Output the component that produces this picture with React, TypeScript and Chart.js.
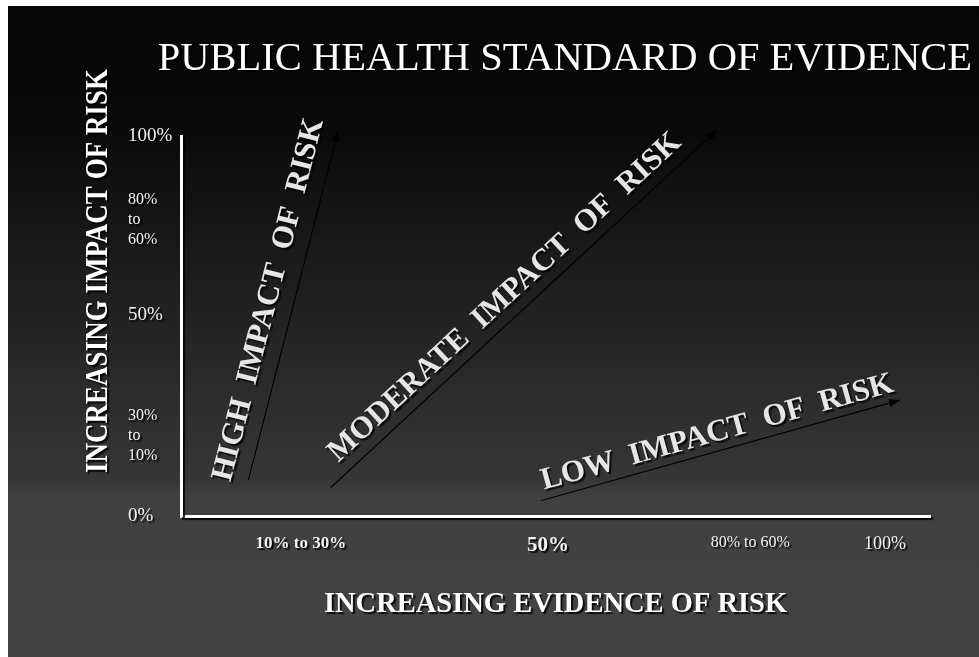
import React, { useEffect, useRef } from "react";
import { Chart, registerables } from "chart.js";

Chart.register(...registerables);

const TITLE = "PUBLIC HEALTH STANDARD OF EVIDENCE";
const X_AXIS_TITLE = "INCREASING EVIDENCE OF RISK";
const Y_AXIS_TITLE = "INCREASING IMPACT OF RISK";

const X_TICK_VALUES = [16, 49, 76, 94];
const X_TICK_LABELS = ["10% to 30%", "50%", "80% to 60%", "100%"];
const Y_TICK_VALUES = [0, 21, 53, 78, 100];
const Y_TICK_LABELS: (string | string[])[] = ["0%", ["30%", "to", "10%"], "50%", ["80%", "to", "60%"], "100%"];

const ARROW_LABELS = ["HIGH  IMPACT  OF  RISK", "MODERATE  IMPACT  OF  RISK", "LOW  IMPACT  OF  RISK"];
const EVIDENCE_START = [9, 20, 48];
const EVIDENCE_END = [21, 71.5, 96];
const IMPACT_START = [9.5, 7.5, 4];
const IMPACT_END = [101.5, 101.5, 30.5];

const SERIF = "'Liberation Serif', 'Times New Roman', serif";
const X_TICK_FONTS = [
  { size: 17, weight: "bold" },
  { size: 21, weight: "bold" },
  { size: 16, weight: "normal" },
  { size: 18, weight: "normal" },
];
// [perpendicular, along] offsets of arrow captions, in px
const LABEL_OFFSETS = [
  [25, -1],
  [21, -6],
  [18, 2],
];

function setShadow(ctx: CanvasRenderingContext2D, on: boolean) {
  ctx.shadowColor = on ? "rgba(0,0,0,0.85)" : "transparent";
  ctx.shadowOffsetX = on ? 2 : 0;
  ctx.shadowOffsetY = on ? 2 : 0;
  ctx.shadowBlur = on ? 1 : 0;
}

const slidePlugin = {
  id: "slide",
  beforeDraw(chart: any) {
    const { ctx, width, height } = chart;
    ctx.save();
    const g = ctx.createLinearGradient(0, 0, 0, height);
    g.addColorStop(0, "#050505");
    g.addColorStop(134 / 651, "#0b0b0b");
    g.addColorStop(294 / 651, "#202020");
    g.addColorStop(474 / 651, "#363636");
    g.addColorStop(490 / 651, "#404040");
    g.addColorStop(1, "#434343");
    ctx.fillStyle = g;
    ctx.fillRect(0, 0, width, height);
    ctx.restore();
    setShadow(ctx, true);
  },
  beforeDatasetsDraw(chart: any) {
    setShadow(chart.ctx, false);
  },
  afterDatasetsDraw(chart: any) {
    const ctx = chart.ctx;
    chart.data.datasets.forEach((_ds: any, i: number) => {
      const pts = chart.getDatasetMeta(i).data;
      const a = pts[0];
      const b = pts[pts.length - 1];
      const dx = b.x - a.x;
      const dy = b.y - a.y;
      const len = Math.hypot(dx, dy);
      const ux = dx / len;
      const uy = dy / len;
      const ang = Math.atan2(dy, dx);
      ctx.save();
      setShadow(ctx, false);
      ctx.fillStyle = "#000";
      ctx.beginPath();
      ctx.moveTo(b.x, b.y);
      ctx.lineTo(b.x - ux * 11 - uy * 4, b.y - uy * 11 + ux * 4);
      ctx.lineTo(b.x - ux * 11 + uy * 4, b.y - uy * 11 - ux * 4);
      ctx.closePath();
      ctx.fill();
      const [perp, along] = LABEL_OFFSETS[i];
      const nx = uy;
      const ny = -ux;
      const cx = (a.x + b.x) / 2 + nx * perp + ux * along;
      const cy = (a.y + b.y) / 2 + ny * perp + uy * along;
      ctx.translate(cx, cy);
      ctx.rotate(ang);
      ctx.font = `bold 31px ${SERIF}`;
      ctx.textAlign = "center";
      ctx.textBaseline = "middle";
      setShadow(ctx, true);
      ctx.fillStyle = "#e6e6e6";
      ctx.fillText(ARROW_LABELS[i], 0, 0);
      ctx.restore();
    });
    const ca = chart.chartArea;
    ctx.save();
    setShadow(ctx, true);
    ctx.translate(ca.left - 82, ca.top + 135);
    ctx.scale(1.15, 1);
    ctx.rotate(-Math.PI / 2);
    ctx.font = `bold 27px ${SERIF}`;
    ctx.textAlign = "center";
    ctx.textBaseline = "middle";
    ctx.fillStyle = "#ffffff";
    ctx.fillText(Y_AXIS_TITLE, 0, 0);
    ctx.restore();
  },
  afterDraw(chart: any) {
    setShadow(chart.ctx, false);
  },
};

export default function App() {
  const ref = useRef<HTMLCanvasElement | null>(null);
  useEffect(() => {
    if (!ref.current) return;
    const chart = new Chart(ref.current, {
      type: "scatter",
      data: {
        datasets: ARROW_LABELS.map((label, i) => ({
          label,
          data: [
            { x: EVIDENCE_START[i], y: IMPACT_START[i] },
            { x: EVIDENCE_END[i], y: IMPACT_END[i] },
          ],
          showLine: true,
          borderColor: "#000",
          backgroundColor: "#000",
          borderWidth: 1.1,
          pointRadius: 0,
          pointHoverRadius: 0,
          clip: false,
        })),
      },
      options: {
        responsive: false,
        animation: false,
        devicePixelRatio: 1,
        events: [],
        layout: { padding: { left: 120, right: 7, top: 0, bottom: 0 }, autoPadding: false },
        plugins: {
          legend: { display: false },
          tooltip: { enabled: false },
          title: {
            display: true,
            text: TITLE,
            color: "#ffffff",
            fullSize: true,
            align: "end",
            font: { family: SERIF, size: 40.5, weight: "normal" },
            padding: { top: 28.7, bottom: 52.7 },
          },
        },
        scales: {
          x: {
            type: "linear",
            min: 0,
            max: 100,
            grid: { display: false, drawTicks: false },
            border: { display: true, color: "#ffffff", width: 3 },
            afterBuildTicks: (s: any) => {
              s.ticks = X_TICK_VALUES.map((v) => ({ value: v }));
            },
            afterFit: (s: any) => {
              s.height = 141;
            },
            ticks: {
              padding: 17,
              maxRotation: 0,
              autoSkip: false,
              color: "#f2f2f2",
              callback: (_v: any, i: number) => X_TICK_LABELS[i],
              font: (c: any) => ({ family: SERIF, ...X_TICK_FONTS[c.index] }),
            },
            title: {
              display: true,
              text: X_AXIS_TITLE,
              color: "#ffffff",
              font: { family: SERIF, size: 28.5, weight: "bold" },
              padding: { top: 0, bottom: 35 },
            },
          },
          y: {
            type: "linear",
            min: 0,
            max: 100,
            grid: { display: false, drawTicks: false },
            border: { display: true, color: "#ffffff", width: 3 },
            afterBuildTicks: (s: any) => {
              s.ticks = Y_TICK_VALUES.map((v) => ({ value: v }));
            },
            afterFit: (s: any) => {
              s.width = 53;
            },
            ticks: {
              crossAlign: "far",
              autoSkip: false,
              color: "#f2f2f2",
              callback: (_v: any, i: number) => Y_TICK_LABELS[i],
              font: (c: any) => ({
                family: SERIF,
                size: Array.isArray(Y_TICK_LABELS[c.index]) ? 16 : 19,
                lineHeight: 1.25,
              }),
            },
          },
          yRight: {
            type: "linear",
            position: "right",
            display: true,
            grid: { display: false, drawTicks: false },
            border: { display: false },
            ticks: { display: false },
            afterFit: (s: any) => {
              s.width = 42;
            },
          },
        },
      } as any,
      plugins: [slidePlugin],
    });
    return () => chart.destroy();
  }, []);
  return (
    <div style={{ position: "fixed", left: 8, top: 6, width: 971, height: 651, overflow: "hidden" }}>
      <canvas ref={ref} width={971} height={651} style={{ display: "block" }} />
    </div>
  );
}
